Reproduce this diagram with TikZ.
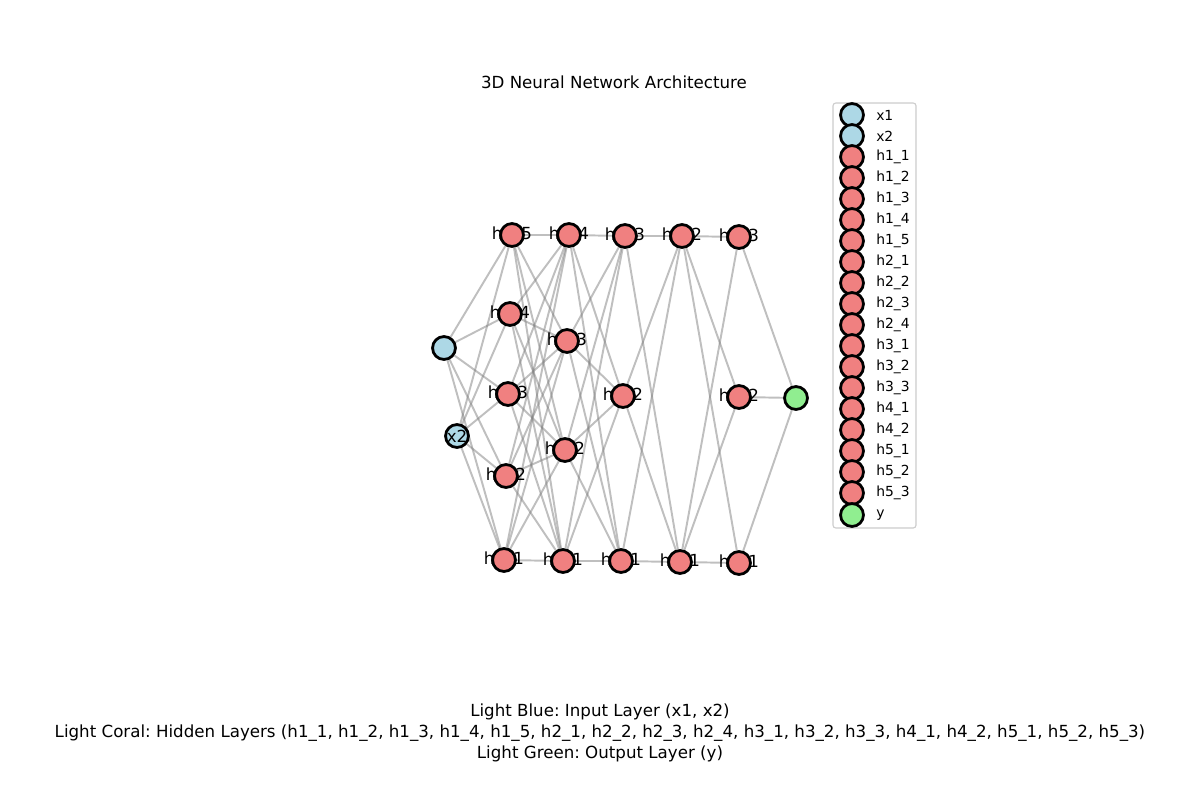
\documentclass[tikz,border=0pt]{standalone}
\usepackage{fontspec}
\setmainfont{DejaVu Sans}
\frenchspacing
\usetikzlibrary{positioning}
\pgfdeclarelayer{edges}
\pgfdeclarelayer{labels}
\pgfsetlayers{edges,labels,main}
\definecolor{inblue}{RGB}{173,216,230}
\definecolor{hidcoral}{RGB}{240,128,128}
\definecolor{outgreen}{RGB}{144,238,144}
\tikzset{
  neuron/.style = {circle, draw=black, line width=2pt,
                   minimum size=16.5pt, inner sep=0pt},
  input/.style  = {neuron, fill=inblue},
  hidden/.style = {neuron, fill=hidcoral},
  output/.style = {neuron, fill=outgreen},
  link/.style   = {draw=gray, opacity=0.5, line width=1.4pt},
  tag/.style    = {font=\fontsize{12}{14}\selectfont, inner sep=0pt},
  key/.style    = {font=\fontsize{10}{12}\selectfont, inner sep=0pt}
}

\begin{document}
\begin{tikzpicture}[x=0.72pt, y=-0.72pt]

\useasboundingbox (0,0) rectangle (1200,800);

% Title
\node[tag] (title) at (614,82) {3D Neural Network Architecture};

% Input layer
\node[input] (x1) at (444,348) {};
\node[input] (x2) at (457,436) {};

% Hidden layer 1
\node[hidden] (h15) at (512,235) {};
\node[hidden] (h14) at (510,314) {};
\node[hidden] (h13) at (508,394) {};
\node[hidden] (h12) at (506,476) {};
\node[hidden] (h11) at (504,560) {};

% Hidden layer 2
\node[hidden] (h24) at (569,235) {};
\node[hidden] (h23) at (567,341) {};
\node[hidden] (h22) at (565,450) {};
\node[hidden] (h21) at (563,561) {};

% Hidden layer 3
\node[hidden] (h33) at (625,236) {};
\node[hidden] (h32) at (623,396) {};
\node[hidden] (h31) at (621,561) {};

% Hidden layer 4
\node[hidden] (h42) at (682,236) {};
\node[hidden] (h41) at (680,562) {};

% Hidden layer 5
\node[hidden] (h53) at (739,237) {};
\node[hidden] (h52) at (739,397) {};
\node[hidden] (h51) at (739,563) {};

% Output
\node[output] (y) at (796,398) {};

\node[tag] (x2tag) at (x2) {x2};

% Connections
\begin{pgfonlayer}{edges}
\draw[link] (x1) edge (h11) edge (h12) edge (h13) edge (h14) edge (h15);
\draw[link] (x2) edge (h11) edge (h12) edge (h13) edge (h14) edge (h15);

\draw[link] (h11) edge (h21) edge (h22) edge (h23) edge (h24);
\draw[link] (h12) edge (h21) edge (h22) edge (h23) edge (h24);
\draw[link] (h13) edge (h21) edge (h22) edge (h23) edge (h24);
\draw[link] (h14) edge (h21) edge (h22) edge (h23) edge (h24);
\draw[link] (h15) edge (h21) edge (h22) edge (h23) edge (h24);

\draw[link] (h21) edge (h31) edge (h32) edge (h33);
\draw[link] (h22) edge (h31) edge (h32) edge (h33);
\draw[link] (h23) edge (h31) edge (h32) edge (h33);
\draw[link] (h24) edge (h31) edge (h32) edge (h33);

\draw[link] (h31) edge (h41) edge (h42);
\draw[link] (h32) edge (h41) edge (h42);
\draw[link] (h33) edge (h41) edge (h42);

\draw[link] (h41) edge (h51) edge (h52) edge (h53);
\draw[link] (h42) edge (h51) edge (h52) edge (h53);

\draw[link] (h51) edge (y);
\draw[link] (h52) edge (y);
\draw[link] (h53) edge (y);
\end{pgfonlayer}

% Labels sit under the circles
\begin{pgfonlayer}{labels}
\node[tag] (h15tag) at (h15) {h1\_5};
\node[tag] (h14tag) at (h14) {h1\_4};
\node[tag] (h13tag) at (h13) {h1\_3};
\node[tag] (h12tag) at (h12) {h1\_2};
\node[tag] (h11tag) at (h11) {h1\_1};
\node[tag] (h24tag) at (h24) {h2\_4};
\node[tag] (h23tag) at (h23) {h2\_3};
\node[tag] (h22tag) at (h22) {h2\_2};
\node[tag] (h21tag) at (h21) {h2\_1};
\node[tag] (h33tag) at (h33) {h3\_3};
\node[tag] (h32tag) at (h32) {h3\_2};
\node[tag] (h31tag) at (h31) {h3\_1};
\node[tag] (h42tag) at (h42) {h4\_2};
\node[tag] (h41tag) at (h41) {h4\_1};
\node[tag] (h53tag) at (h53) {h5\_3};
\node[tag] (h52tag) at (h52) {h5\_2};
\node[tag] (h51tag) at (h51) {h5\_1};
\end{pgfonlayer}

% Legend
\draw[draw=black!20, fill=white, rounded corners=2pt, line width=0.8pt]
    (833,103) rectangle (916,528);

\node[input]  (k1)  at (852,115) {};
\node[key, right=8pt of k1] (k1t) {x1};
\node[input]  (k2)  at (852,136) {};
\node[key, right=8pt of k2] (k2t) {x2};
\node[hidden] (k3)  at (852,157) {};
\node[key, right=8pt of k3] (k3t) {h1\_1};
\node[hidden] (k4)  at (852,178) {};
\node[key, right=8pt of k4] (k4t) {h1\_2};
\node[hidden] (k5)  at (852,199) {};
\node[key, right=8pt of k5] (k5t) {h1\_3};
\node[hidden] (k6)  at (852,220) {};
\node[key, right=8pt of k6] (k6t) {h1\_4};
\node[hidden] (k7)  at (852,241) {};
\node[key, right=8pt of k7] (k7t) {h1\_5};
\node[hidden] (k8)  at (852,262) {};
\node[key, right=8pt of k8] (k8t) {h2\_1};
\node[hidden] (k9)  at (852,283) {};
\node[key, right=8pt of k9] (k9t) {h2\_2};
\node[hidden] (k10) at (852,304) {};
\node[key, right=8pt of k10] (k10t) {h2\_3};
\node[hidden] (k11) at (852,325) {};
\node[key, right=8pt of k11] (k11t) {h2\_4};
\node[hidden] (k12) at (852,346) {};
\node[key, right=8pt of k12] (k12t) {h3\_1};
\node[hidden] (k13) at (852,367) {};
\node[key, right=8pt of k13] (k13t) {h3\_2};
\node[hidden] (k14) at (852,388) {};
\node[key, right=8pt of k14] (k14t) {h3\_3};
\node[hidden] (k15) at (852,409) {};
\node[key, right=8pt of k15] (k15t) {h4\_1};
\node[hidden] (k16) at (852,430) {};
\node[key, right=8pt of k16] (k16t) {h4\_2};
\node[hidden] (k17) at (852,451) {};
\node[key, right=8pt of k17] (k17t) {h5\_1};
\node[hidden] (k18) at (852,472) {};
\node[key, right=8pt of k18] (k18t) {h5\_2};
\node[hidden] (k19) at (852,493) {};
\node[key, right=8pt of k19] (k19t) {h5\_3};
\node[output] (k20) at (852,515) {};
\node[key, right=8pt of k20] (k20t) {y};

% Caption
\node[tag, align=center, font=\fontsize{12}{15.1}\selectfont] (caption) at (600,733) {
    Light Blue: Input Layer (x1, x2)\\
    Light Coral: Hidden Layers (h1\_1, h1\_2, h1\_3, h1\_4, h1\_5, h2\_1, h2\_2, h2\_3, h2\_4, h3\_1, h3\_2, h3\_3, h4\_1, h4\_2, h5\_1, h5\_2, h5\_3)\\
    Light Green: Output Layer (y)
};

\end{tikzpicture}
\end{document}
